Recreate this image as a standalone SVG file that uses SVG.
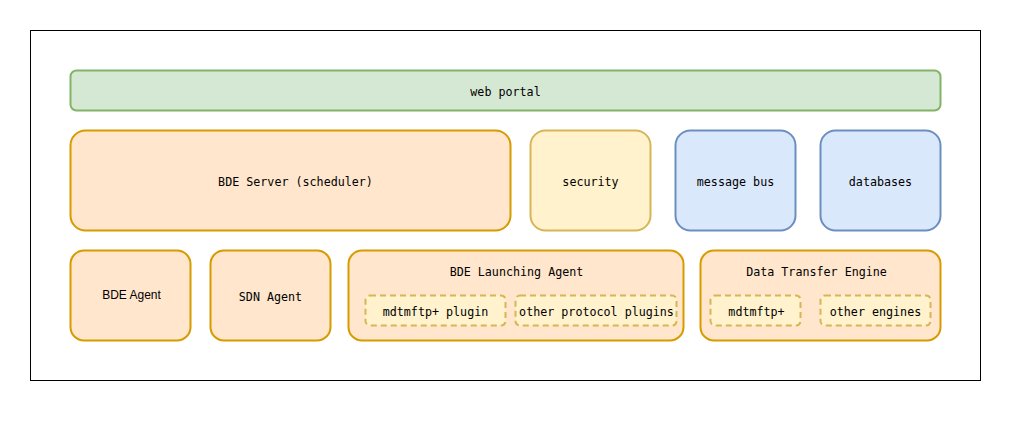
<svg xmlns="http://www.w3.org/2000/svg" width="1011" height="421" viewBox="0 0 1011 421">
<style>
.o{fill:#ffe6cc;stroke:#d79b00;stroke-width:2}
.y{fill:#fff2cc;stroke:#d6b656;stroke-width:2}
.b{fill:#dae8fc;stroke:#6c8ebf;stroke-width:2}
.g{fill:#d5e8d4;stroke:#82b366;stroke-width:2}
.d{fill:#fff2cc;stroke:#d6b656;stroke-width:2;stroke-dasharray:6 4}
text{font-family:"DejaVu Sans Mono",monospace;font-size:11.7px;fill:#000;text-anchor:middle;dominant-baseline:central}
.s{font-family:"Liberation Sans",Arial,sans-serif;font-size:12px}
</style>
<rect width="1011" height="421" fill="#fff"/>
<rect x="30.5" y="30.5" width="950" height="350" fill="#fff" stroke="#000" stroke-width="1"/>
<g id="connectors"></g>
<g transform="translate(0.5,0.5)">
<g id="web-portal"><rect class="g" x="70" y="70" width="870" height="40" rx="6"/><text x="505" y="91">web portal</text></g>
<g id="bde-server"><rect class="o" x="70" y="130" width="440" height="100" rx="15"/><text x="295" y="181">BDE Server (scheduler)</text></g>
<g id="security"><rect class="y" x="530" y="130" width="120" height="100" rx="15"/><text x="590" y="181">security</text></g>
<g id="message-bus"><rect class="b" x="675" y="130" width="120" height="100" rx="15"/><text x="735" y="181">message bus</text></g>
<g id="databases"><rect class="b" x="820" y="130" width="120" height="100" rx="15"/><text x="880" y="181">databases</text></g>
<g id="bde-agent"><rect class="o" x="70" y="250" width="120" height="90" rx="13.5"/><text class="s" x="131" y="294">BDE Agent</text></g>
<g id="sdn-agent"><rect class="o" x="210" y="250" width="120" height="90" rx="13.5"/><text x="270" y="296">SDN Agent</text></g>
<g id="bde-launching-agent"><rect class="o" x="348" y="250" width="335" height="90" rx="13.5"/><text x="516" y="271">BDE Launching Agent</text>
<g id="mdtmftp-plugin"><rect class="d" x="365" y="295" width="140" height="30" rx="4.5"/><text x="435" y="311">mdtmftp+ plugin</text></g>
<g id="other-protocol-plugins"><rect class="d" x="515" y="295" width="161" height="30" rx="4.5"/><text x="596" y="311">other protocol plugins</text></g>
</g>
<g id="data-transfer-engine"><rect class="o" x="700" y="250" width="240" height="90" rx="13.5"/><text x="816" y="271">Data Transfer Engine</text>
<g id="mdtmftp"><rect class="d" x="710" y="295" width="90" height="30" rx="4.5"/><text x="756" y="311">mdtmftp+</text></g>
<g id="other-engines"><rect class="d" x="820" y="295" width="110" height="30" rx="4.5"/><text x="875" y="311">other engines</text></g>
</g>
</g>
</svg>
